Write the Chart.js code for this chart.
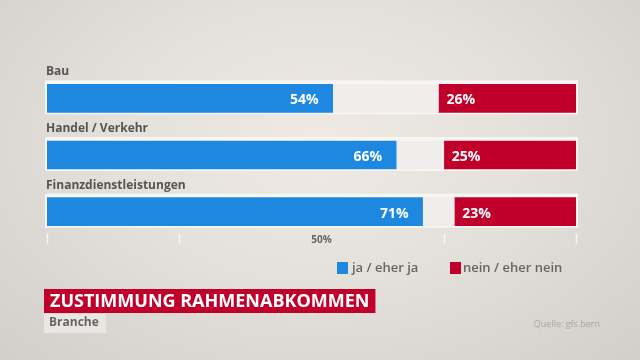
<!DOCTYPE html>
<html>
<head>
<meta charset="utf-8">
<script src="https://cdn.jsdelivr.net/npm/chart.js@4"></script>
<style>
html,body{margin:0;padding:0;width:640px;height:360px;overflow:hidden;}
body{background:radial-gradient(ellipse at 50% 40%, #efebe4 0%, #e4e0da 45%, #d2cfcb 100%);}
#wrap{position:absolute;left:0;top:0;width:640px;height:360px;}
</style>
</head>
<body>
<div id="wrap"><canvas id="c" width="640" height="360"></canvas></div>
<script>
const categories = ["Bau", "Handel / Verkehr", "Finanzdienstleistungen"];
const jaValues = [54, 66, 71];
const neinValues = [26, 25, 23];
const restValues = jaValues.map((v, i) => 100 - v - neinValues[i]);
const tickValues = [0, 25, 75, 100];
const tickLabelValue = 50;
const tickLabelText = "50%";
const legendLabels = ["ja / eher ja", "nein / eher nein"];
const titleText = "ZUSTIMMUNG RAHMENABKOMMEN";
const subtitleText = "Branche";
const sourceText = "Quelle: gfs.bern";

const BLUE = "#1e88e0", RED = "#c0002b", NEUTRAL = "#efeeec";
const FONT = "'Open Sans', 'Noto Sans', sans-serif";

const rowBackground = {
  id: "rowBackground",
  beforeDatasetsDraw(chart) {
    const ctx = chart.ctx;
    const xs = chart.scales.x;
    const ja = chart.getDatasetMeta(0).data;
    ctx.save();
    ja.forEach(el => {
      const x0 = xs.getPixelForValue(0) - 2, x1 = xs.getPixelForValue(100) + 2;
      const y0 = el.y - el.height / 2 - 4;
      ctx.fillStyle = "#f7f6f4";
      ctx.fillRect(x0, y0, x1 - x0, el.height + 6);
    });
    ctx.restore();
  }
};

const overlay = {
  id: "overlay",
  afterDatasetsDraw(chart) {
    const ctx = chart.ctx;
    const xs = chart.scales.x;
    const ja = chart.getDatasetMeta(0).data;
    const nein = chart.getDatasetMeta(2).data;
    ctx.save();
    ctx.font = "bold 12px " + FONT;
    ctx.fillStyle = "#555555";
    ctx.textBaseline = "alphabetic";
    ctx.textAlign = "left";
    ja.forEach((el, i) => {
      const top = el.y - el.height / 2;
      ctx.fillText(categories[i], xs.getPixelForValue(0) - 1, top - 9);
    });
    ctx.font = "bold 14px " + FONT;
    ctx.fillStyle = "#ffffff";
    ctx.textBaseline = "middle";
    ja.forEach((el, i) => {
      ctx.textAlign = "right";
      ctx.fillText(jaValues[i] + "%", el.x - 14, el.y + 2);
    });
    nein.forEach((el, i) => {
      ctx.textAlign = "left";
      ctx.fillText(neinValues[i] + "%", el.base + 8, el.y + 2);
    });
    const lastBar = ja[ja.length - 1];
    const ty = lastBar.y + lastBar.height / 2 + 8;
    ctx.strokeStyle = "#f7f6f3";
    ctx.lineWidth = 1.5;
    tickValues.forEach(v => {
      const x = Math.round(xs.getPixelForValue(v)) + 0.5;
      ctx.beginPath(); ctx.moveTo(x, ty); ctx.lineTo(x, ty + 10); ctx.stroke();
    });
    ctx.font = "bold 10px " + FONT;
    ctx.fillStyle = "#666666";
    ctx.textAlign = "center";
    ctx.fillText(tickLabelText, xs.getPixelForValue(tickLabelValue) + 10, ty + 6);
    ctx.font = "600 13px " + FONT;
    ctx.textAlign = "left";
    ctx.fillStyle = BLUE;
    ctx.fillRect(337, 262, 11, 12);
    ctx.fillStyle = "#666666";
    ctx.fillText(legendLabels[0], 352, 268);
    ctx.fillStyle = RED;
    ctx.fillRect(450, 262, 11, 12);
    ctx.fillStyle = "#666666";
    ctx.fillText(legendLabels[1], 463, 268);
    ctx.font = "bold 18px " + FONT;
    const tw = ctx.measureText(titleText).width;
    ctx.fillStyle = RED;
    ctx.fillRect(44, 289, tw + 12, 24);
    ctx.fillStyle = "#ffffff";
    ctx.fillText(titleText, 50, 302);
    ctx.font = "bold 12px " + FONT;
    const sw = ctx.measureText(subtitleText).width;
    ctx.fillStyle = "#e9e7e3";
    ctx.fillRect(44, 314, sw + 12, 19);
    ctx.fillStyle = "#666666";
    ctx.fillText(subtitleText, 49, 323);
    ctx.font = "9px " + FONT;
    ctx.fillStyle = "#a8a6a3";
    ctx.textAlign = "right";
    ctx.fillText(sourceText, 600, 324);
    ctx.restore();
  }
};

new Chart(document.getElementById("c"), {
  type: "bar",
  data: {
    labels: categories,
    datasets: [
      { label: legendLabels[0], data: jaValues, backgroundColor: BLUE, borderWidth: 0 },
      { label: "rest", data: restValues, backgroundColor: NEUTRAL, borderWidth: 0 },
      { label: legendLabels[1], data: neinValues, backgroundColor: RED, borderWidth: 0 }
    ]
  },
  options: {
    indexAxis: "y",
    responsive: false,
    animation: false,
    layout: { padding: { left: 47, right: 64, top: 70, bottom: 120 } },
    datasets: { bar: { barThickness: 28 } },
    scales: {
      x: { stacked: true, min: 0, max: 100, display: false },
      y: { stacked: true, display: false }
    },
    plugins: { legend: { display: false }, tooltip: { enabled: false } }
  },
  plugins: [rowBackground, overlay]
});
</script>
</body>
</html>
